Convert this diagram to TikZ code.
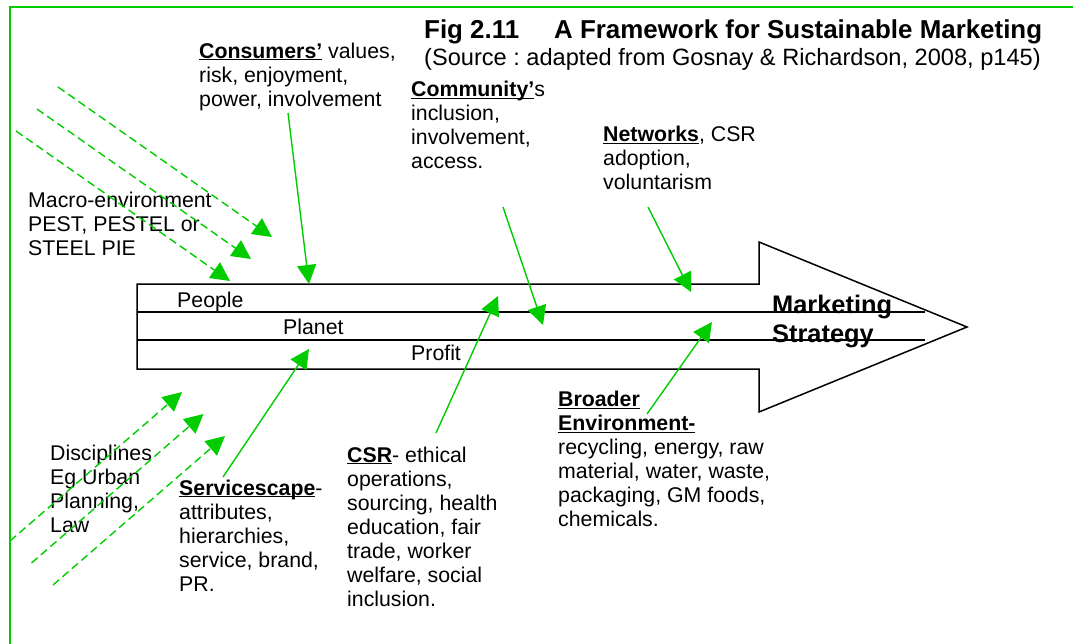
\documentclass[tikz,border=0pt]{standalone}
\usepackage{fontspec}
\setmainfont{Liberation Sans}
\usetikzlibrary{positioning, arrows.meta}
\frenchspacing

\definecolor{fwgreen}{RGB}{0,204,0}
\newcommand{\keyw}[1]{\underline{\smash{\textbf{#1}}}}
\newcommand{\txtsize}{\fontsize{21.3}{24}\selectfont}

\tikzset{
    txt/.style={anchor=north west, align=left, inner sep=0pt, font=\txtsize},
    lbl/.style={anchor=base west, inner sep=0pt, font=\txtsize},
    pull/.style={draw=fwgreen, line width=1.4pt, -{Triangle[length=19pt,width=19pt]}},
    push/.style={pull, dash pattern=on 8pt off 4.5pt},
    body/.style={draw, line width=1.5pt, line join=miter}
}

\begin{document}
\begin{tikzpicture}[x=1pt, y=-1pt]
        \useasboundingbox (0,0) rectangle (1073,643);
        \draw[fwgreen, line width=2pt] (10,660) -- (10,7) -- (1090,7);
        % title
        \node (title) [lbl, font=\fontsize{25.9}{29}\selectfont\bfseries] at (424,38)
            {Fig 2.11\hspace{35pt}A Framework for Sustainable Marketing};
        \node (source) [lbl, font=\fontsize{23.6}{27}\selectfont] at (424,65)
            {(Source : adapted from Gosnay \& Richardson, 2008, p145)};
        % strategy arrow
        \draw[body] (137,284) -- (759,284) -- (759,242) -- (967,327)
                    -- (759,412) -- (759,369) -- (137,369) -- cycle;
        \draw[body] (137,312) -- (925,312);
        \draw[body] (137,340) -- (925,340);
        \node (people) [lbl] at (177,307) {People};
        \node (planet) [lbl] at (283,334) {Planet};
        \node (profit) [lbl] at (411,360) {Profit};
        \node (mkt) [txt, font=\fontsize{25.4}{29}\selectfont\bfseries] at (772,294.5)
            {Marketing\\Strategy};
        % above
        \node (cons) [txt] at (199,42.5) {\keyw{Consumers’} values,\\risk, enjoyment,\\power, involvement};
        \node (comm) [txt] at (411,85) {\keyw{Community’}s\\inclusion,\\involvement,\\access.};
        \node (netw) [txt] at (603,126.5) {\keyw{Networks}, CSR\\adoption,\\voluntarism};
        \node (macro) [txt] at (28,191.5) {Macro-environment\\PEST, PESTEL or\\STEEL PIE};
        % below
        \node (disc) [txt] at (50,444.5) {Disciplines\\Eg Urban\\Planning,\\Law};
        \node (serv) [txt] at (179,488.5) {\keyw{Servicescape}-\\attributes,\\hierarchies,\\service, brand,\\PR.};
        \node (csr) [txt] at (347,446.5) {\keyw{CSR}- ethical\\operations,\\sourcing, health\\education, fair\\trade, worker\\welfare, social\\inclusion.};
        \node (broad) [txt] at (558,406.5) {\keyw{Broader}\\\keyw{Environment-}\\recycling, energy, raw\\material, water, waste,\\packaging, GM foods,\\chemicals.};
        % influences
        \coordinate (cons-s) at (288,113);   \coordinate (cons-t) at (309,284);
        \coordinate (comm-s) at (503,207);   \coordinate (comm-t) at (543,325);
        \coordinate (netw-s) at (648,207);   \coordinate (netw-t) at (691,292);
        \coordinate (serv-s) at (223,477);   \coordinate (serv-t) at (309,349);
        \coordinate (csr-s) at (436,433);    \coordinate (csr-t) at (498,296);
        \coordinate (broad-s) at (647,414);  \coordinate (broad-t) at (712,322);
        \foreach \n in {cons, comm, netw, serv, csr, broad}
            \draw[pull] (\n-s) -- (\n-t);
        % macro and disciplines
        \foreach \k in {1,2,3} {
            \coordinate (ms\k) at (79-21*\k, 65+22*\k);
            \coordinate (mt\k) at (293-21*\k, 215+22*\k);
            \draw[push] (ms\k) -- (mt\k);
            \coordinate (ds\k) at (-11.5+21.5*\k, 519+22*\k);
            \coordinate (dt\k) at (160.5+21.5*\k, 370+22*\k);
            \draw[push] (ds\k) -- (dt\k);
        }
\end{tikzpicture}
\end{document}
